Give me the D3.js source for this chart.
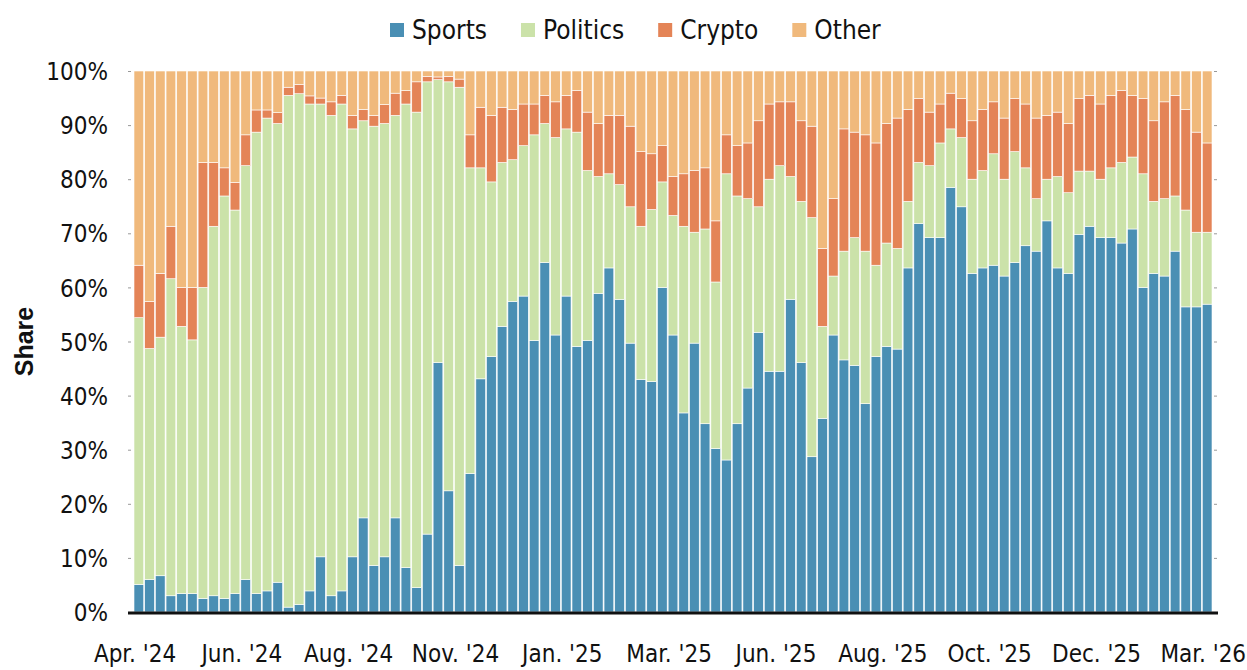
<!DOCTYPE html>
<html>
<head>
<meta charset="utf-8">
<script src="https://cdn.jsdelivr.net/npm/d3@7"></script>
<style>
  body { margin: 0; background: #fff; }
  text { font-family: "Liberation Sans Narrow", "DejaVu Sans Condensed", sans-serif; font-stretch: condensed; fill: #111; }
</style>
</head>
<body>
<div id="chart"></div>
<script>
// weekly bars, Apr '24 -> Mar '26 (share in %)
var weeks = d3.range(101);
var tickWeeks = [0, 10, 20, 30, 40, 50, 60, 70, 80, 90, 100];
var tickLabels = ["Apr. '24", "Jun. '24", "Aug. '24", "Nov. '24", "Jan. '25", "Mar. '25",
                  "Jun. '25", "Aug. '25", "Oct. '25", "Dec. '25", "Mar. '26"];
var keys = ["Sports", "Politics", "Crypto", "Other"];
var colors = ["#4a8fb4", "#cbe2a9", "#e48457", "#f0b97c"];

var sportsShare = [5.1, 6.0, 6.7, 3.0, 3.4, 3.4, 2.5, 3.0, 2.5, 3.4,
  6.0, 3.4, 3.9, 5.5, 0.9, 1.4, 3.9, 10.2, 3.0, 3.9,
  10.2, 17.4, 8.6, 10.2, 17.4, 8.2, 4.5, 14.4, 46.1, 22.4,
  8.6, 25.6, 43.1, 47.2, 52.8, 57.4, 58.4, 50.2, 64.6, 51.2,
  58.4, 49.1, 50.2, 58.9, 63.6, 57.8, 49.7, 43.0, 42.6, 60.0,
  51.2, 36.8, 49.7, 34.8, 30.2, 28.1, 34.8, 41.4, 51.7, 44.5,
  44.5, 57.8, 46.1, 28.7, 35.8, 51.2, 46.6, 45.6, 38.5, 47.2,
  49.1, 48.6, 63.6, 71.8, 69.2, 69.2, 78.5, 74.9, 62.6, 63.6,
  64.1, 62.1, 64.6, 67.7, 66.7, 72.3, 63.6, 62.6, 69.8, 71.3,
  69.2, 69.2, 68.2, 70.8, 60.0, 62.6, 62.1, 66.7, 56.4, 56.4, 56.9];
var politicsShare = [49.3, 42.7, 44.1, 58.6, 49.4, 46.9, 57.5, 68.3, 74.4, 70.9,
  76.5, 85.3, 87.4, 84.8, 94.6, 94.4, 90.0, 83.7, 88.8, 90.0,
  79.1, 73.4, 81.2, 80.1, 74.4, 85.7, 87.9, 83.6, 52.3, 75.6,
  88.4, 56.5, 39.0, 32.3, 30.3, 26.2, 27.8, 38.0, 25.7, 36.5,
  30.9, 39.6, 31.4, 21.6, 17.4, 21.2, 25.2, 28.3, 31.8, 19.5,
  22.1, 34.5, 20.5, 36.0, 30.8, 52.9, 42.1, 35.0, 23.2, 35.5,
  38.0, 22.7, 29.8, 44.2, 17.0, 10.9, 20.1, 23.6, 28.2, 16.9,
  19.1, 18.6, 12.3, 11.3, 13.3, 17.5, 10.8, 12.8, 17.4, 18.0,
  20.6, 17.9, 20.5, 14.4, 9.7, 7.7, 16.9, 14.9, 11.7, 10.2,
  10.8, 12.9, 14.9, 13.3, 21.0, 13.3, 14.3, 10.2, 17.9, 13.8, 13.3];
var cryptoShare = [9.7, 8.7, 11.8, 9.7, 7.2, 9.7, 23.1, 11.8, 5.2, 5.1,
  5.7, 4.1, 1.5, 2.0, 1.5, 1.7, 1.5, 1.1, 2.5, 1.6,
  2.5, 2.1, 2.0, 3.5, 4.1, 2.5, 5.6, 1.0, 0.5, 1.0,
  1.5, 6.1, 11.2, 12.3, 10.2, 9.3, 7.7, 5.7, 5.2, 6.6,
  6.2, 7.7, 10.8, 9.8, 10.8, 12.8, 14.9, 13.8, 10.3, 6.7,
  7.2, 9.7, 11.4, 11.3, 11.3, 7.2, 9.3, 10.3, 15.9, 13.9,
  11.8, 13.8, 14.9, 16.9, 14.4, 14.3, 22.6, 19.5, 21.5, 22.6,
  22.1, 24.1, 17.0, 11.8, 9.9, 7.2, 6.6, 7.2, 10.8, 11.3,
  9.6, 11.3, 9.8, 11.8, 14.9, 11.8, 11.9, 12.8, 13.4, 14.0,
  13.9, 13.4, 13.3, 11.4, 13.9, 14.9, 17.9, 18.6, 18.6, 18.5, 16.5];
var otherShare = [35.9, 42.6, 37.4, 28.7, 40.0, 40.0, 16.9, 16.9, 17.9, 20.6,
  11.8, 7.2, 7.2, 7.7, 3.0, 2.5, 4.6, 5.0, 5.7, 4.5,
  8.2, 7.1, 8.2, 6.2, 4.1, 3.6, 2.0, 1.0, 1.1, 1.0,
  1.5, 11.8, 6.7, 8.2, 6.7, 7.1, 6.1, 6.1, 4.5, 5.7,
  4.5, 3.6, 7.6, 9.7, 8.2, 8.2, 10.2, 14.9, 15.3, 13.8,
  19.5, 19.0, 18.4, 17.9, 27.7, 11.8, 13.8, 13.3, 9.2, 6.1,
  5.7, 5.7, 9.2, 10.2, 32.8, 23.6, 10.7, 11.3, 11.8, 13.3,
  9.7, 8.7, 7.1, 5.1, 7.6, 6.1, 4.1, 5.1, 9.2, 7.1,
  5.7, 8.7, 5.1, 6.1, 8.7, 8.2, 7.6, 9.7, 5.1, 4.5,
  6.1, 4.5, 3.6, 4.5, 5.1, 9.2, 5.7, 4.5, 7.1, 11.3, 13.3];

// table for d3.stack
var table = weeks.map(function(w, i) {
    return { week: w, Sports: sportsShare[i], Politics: politicsShare[i],
             Crypto: cryptoShare[i], Other: otherShare[i] };
});

var W = 1247, H = 670;
var plotLeft = 134, plotRight = 1212, plotTop = 71, plotBottom = 612;

var svg = d3.select("#chart").append("svg")
    .attr("width", W)
    .attr("height", H);

var x = d3.scaleBand()
    .domain(weeks)
    .range([plotLeft, plotRight])
    .paddingInner(0.09)
    .paddingOuter(0);

var y = d3.scaleLinear()
    .domain([0, 100])
    .range([plotBottom, plotTop]);

var color = d3.scaleOrdinal().domain(keys).range(colors);

var series = d3.stack().keys(keys)(table);

// bars
svg.append("g")
    .selectAll("g")
    .data(series)
    .enter().append("g")
    .attr("fill", function(d) { return color(d.key); })
    .selectAll("rect")
    .data(function(d) { return d; })
    .enter().append("rect")
    .attr("x", function(d) { return x(d.data.week); })
    .attr("width", x.bandwidth())
    .attr("y", function(d) { return y(d[1]); })
    .attr("height", function(d) { return Math.max(0, y(d[0]) - y(d[1])); })
    .attr("stroke", "#fff")
    .attr("stroke-width", 0.6);

var tickFont = "'Liberation Sans Narrow', 'DejaVu Sans Condensed', sans-serif";

// y axis left
var yAxis = svg.append("g")
    .attr("transform", "translate(131,0)")
    .call(d3.axisLeft(y).tickValues(d3.range(0, 101, 10))
        .tickSize(3).tickPadding(20)
        .tickFormat(function(d) { return d + "%"; }));
yAxis.select(".domain").remove();
yAxis.selectAll(".tick line").attr("stroke", "#999");
yAxis.selectAll(".tick text")
    .attr("dy", "0.36em")
    .style("font-size", "24px")
    .style("font-family", tickFont)
    .attr("fill", "#111");

// small ticks on the right
var yAxisR = svg.append("g")
    .attr("transform", "translate(1214,0)")
    .call(d3.axisRight(y).tickValues(d3.range(0, 101, 10)).tickSize(3).tickFormat(""));
yAxisR.select(".domain").remove();
yAxisR.selectAll(".tick line").attr("stroke", "#999");

// x axis, labels at the start of every 10th week
var xAxis = svg.append("g")
    .attr("transform", "translate(" + (-x.bandwidth() / 2 + 1) + "," + plotBottom + ")")
    .call(d3.axisBottom(x).tickValues(tickWeeks).tickSize(0).tickPadding(33)
        .tickFormat(function(d, i) { return tickLabels[i]; }));
xAxis.select(".domain").remove();
xAxis.selectAll(".tick text")
    .style("font-size", "24px")
    .style("font-family", tickFont)
    .attr("fill", "#111");

// baseline
svg.append("line")
    .attr("x1", 128).attr("x2", 1218)
    .attr("y1", plotBottom + 1).attr("y2", plotBottom + 1)
    .attr("stroke", "#111")
    .attr("stroke-width", 3);

// y label
svg.append("text")
    .attr("transform", "translate(33," + ((plotTop + plotBottom) / 2) + ") rotate(-90)")
    .style("text-anchor", "middle")
    .style("font-family", "'Liberation Sans', sans-serif")
    .style("font-stretch", "normal")
    .style("font-weight", "bold")
    .style("font-size", "25px")
    .text("Share");

// legend
var lx = 390;
keys.forEach(function(k, i) {
    svg.append("rect")
        .attr("x", lx).attr("y", 23)
        .attr("width", 14).attr("height", 14)
        .attr("fill", colors[i]);
    var t = svg.append("text")
        .attr("x", lx + 22).attr("y", 39)
        .style("font-size", "26px")
        .text(k);
    lx = lx + 22 + t.node().getComputedTextLength() + 34;
});
</script>
</body>
</html>
